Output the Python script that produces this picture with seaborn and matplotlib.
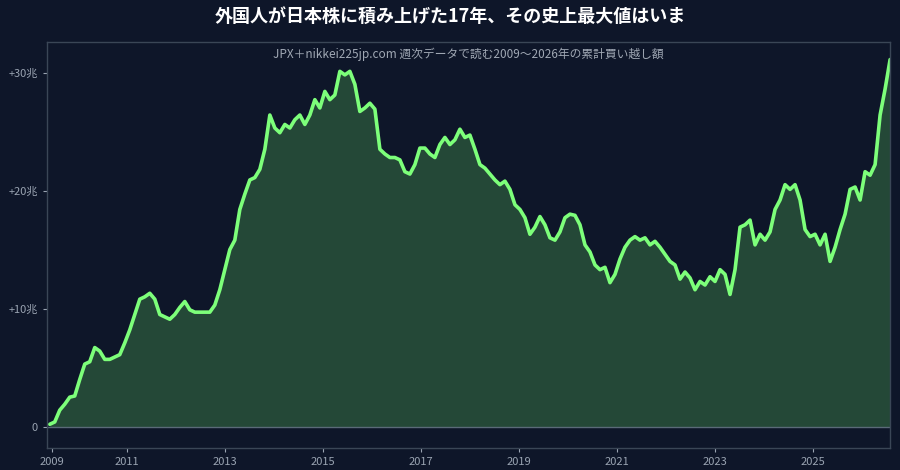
import numpy as np
import pandas as pd
import matplotlib
matplotlib.use("Agg")
import matplotlib.pyplot as plt
import seaborn as sns

values = [0.2,0.4,1.4,1.9,2.5,2.6,4.0,5.3,5.5,6.7,6.4,5.7,5.7,5.9,6.1,7.1,8.2,9.5,10.8,11.0,
11.3,10.8,9.5,9.3,9.1,9.5,10.1,10.6,9.9,9.7,9.7,9.7,9.7,10.3,11.6,13.3,15.0,15.8,18.4,19.7,
20.9,21.1,21.8,23.5,26.4,25.3,24.9,25.6,25.3,26.0,26.4,25.6,26.4,27.7,27.0,28.4,27.7,28.1,30.1,29.8,
30.1,29.0,26.7,27.0,27.4,26.9,23.5,23.1,22.8,22.8,22.6,21.6,21.4,22.2,23.6,23.6,23.1,22.8,23.9,24.5,
23.9,24.3,25.2,24.5,24.7,23.5,22.2,21.9,21.4,20.9,20.5,20.8,20.1,18.8,18.4,17.7,16.3,16.9,17.8,17.1,
16.0,15.8,16.5,17.7,18.0,17.9,17.1,15.4,14.8,13.7,13.3,13.5,12.2,12.9,14.2,15.2,15.8,16.1,15.8,16.0,
15.4,15.7,15.2,14.6,14.0,13.7,12.5,13.1,12.6,11.6,12.3,12.0,12.7,12.3,13.3,12.9,11.2,13.3,16.9,17.1,
17.5,15.4,16.3,15.8,16.5,18.4,19.2,20.5,20.1,20.5,19.2,16.7,16.1,16.3,15.4,16.3,14.0,15.2,16.7,18.0,
20.1,20.3,19.2,21.6,21.3,22.2,26.4,28.6,31.1]
years = np.linspace(2009.43, 2026.57, len(values))
df = pd.DataFrame({"year": years, "value": values})

tick_years = [2009.47, 2011, 2013, 2015, 2017, 2019, 2021, 2023, 2025]
tick_labels = ["2009", "2011", "2013", "2015", "2017", "2019", "2021", "2023", "2025"]
ytick_vals = [0, 10, 20, 30]
ytick_labels = ["0", "+10兆", "+20兆", "+30兆"]

bg = "#0e1629"
sns.set_theme(style="dark")
plt.rcParams['font.family'] = ['Noto Sans CJK JP', 'DejaVu Sans']

fig = plt.figure(figsize=(9, 4.7), dpi=100, facecolor=bg)
ax = fig.add_axes([0.052, 0.047, 0.937, 0.864])
ax.set_facecolor(bg)
ax.fill_between(df["year"], df["value"], 0, color="#2e5e3e", alpha=0.7, lw=0)
sns.lineplot(data=df, x="year", y="value", ax=ax, color="#7dff7a", lw=2.6)
ax.axhline(0, color="#5a6a78", lw=1)
ax.set_xlim(2009.37, 2026.57)
ax.set_ylim(-1.8, 32.6)
ax.set_xticks(tick_years)
ax.set_xticklabels(tick_labels)
ax.set_yticks(ytick_vals)
ax.set_yticklabels(ytick_labels)
ax.tick_params(colors="#9aa4b2", labelsize=8, length=3, width=0.8)
ax.tick_params(axis="both", which="both", bottom=True, left=True)
ax.set_xlabel(""); ax.set_ylabel("")
ax.grid(False)
for s in ax.spines.values():
    s.set_color("#3a4656"); s.set_linewidth(1)
ax.text(0.5, 0.985, "JPX＋nikkei225jp.com 週次データで読む2009〜2026年の累計買い越し額",
        transform=ax.transAxes, ha="center", va="top", color="#a0a8b4", fontsize=8.5)
fig.text(0.5, 0.965, "外国人が日本株に積み上げた17年、その史上最大値はいま", ha="center", va="center",
         color="white", fontsize=13, fontweight="bold")
fig.savefig("out.png", dpi=100, facecolor=bg)
